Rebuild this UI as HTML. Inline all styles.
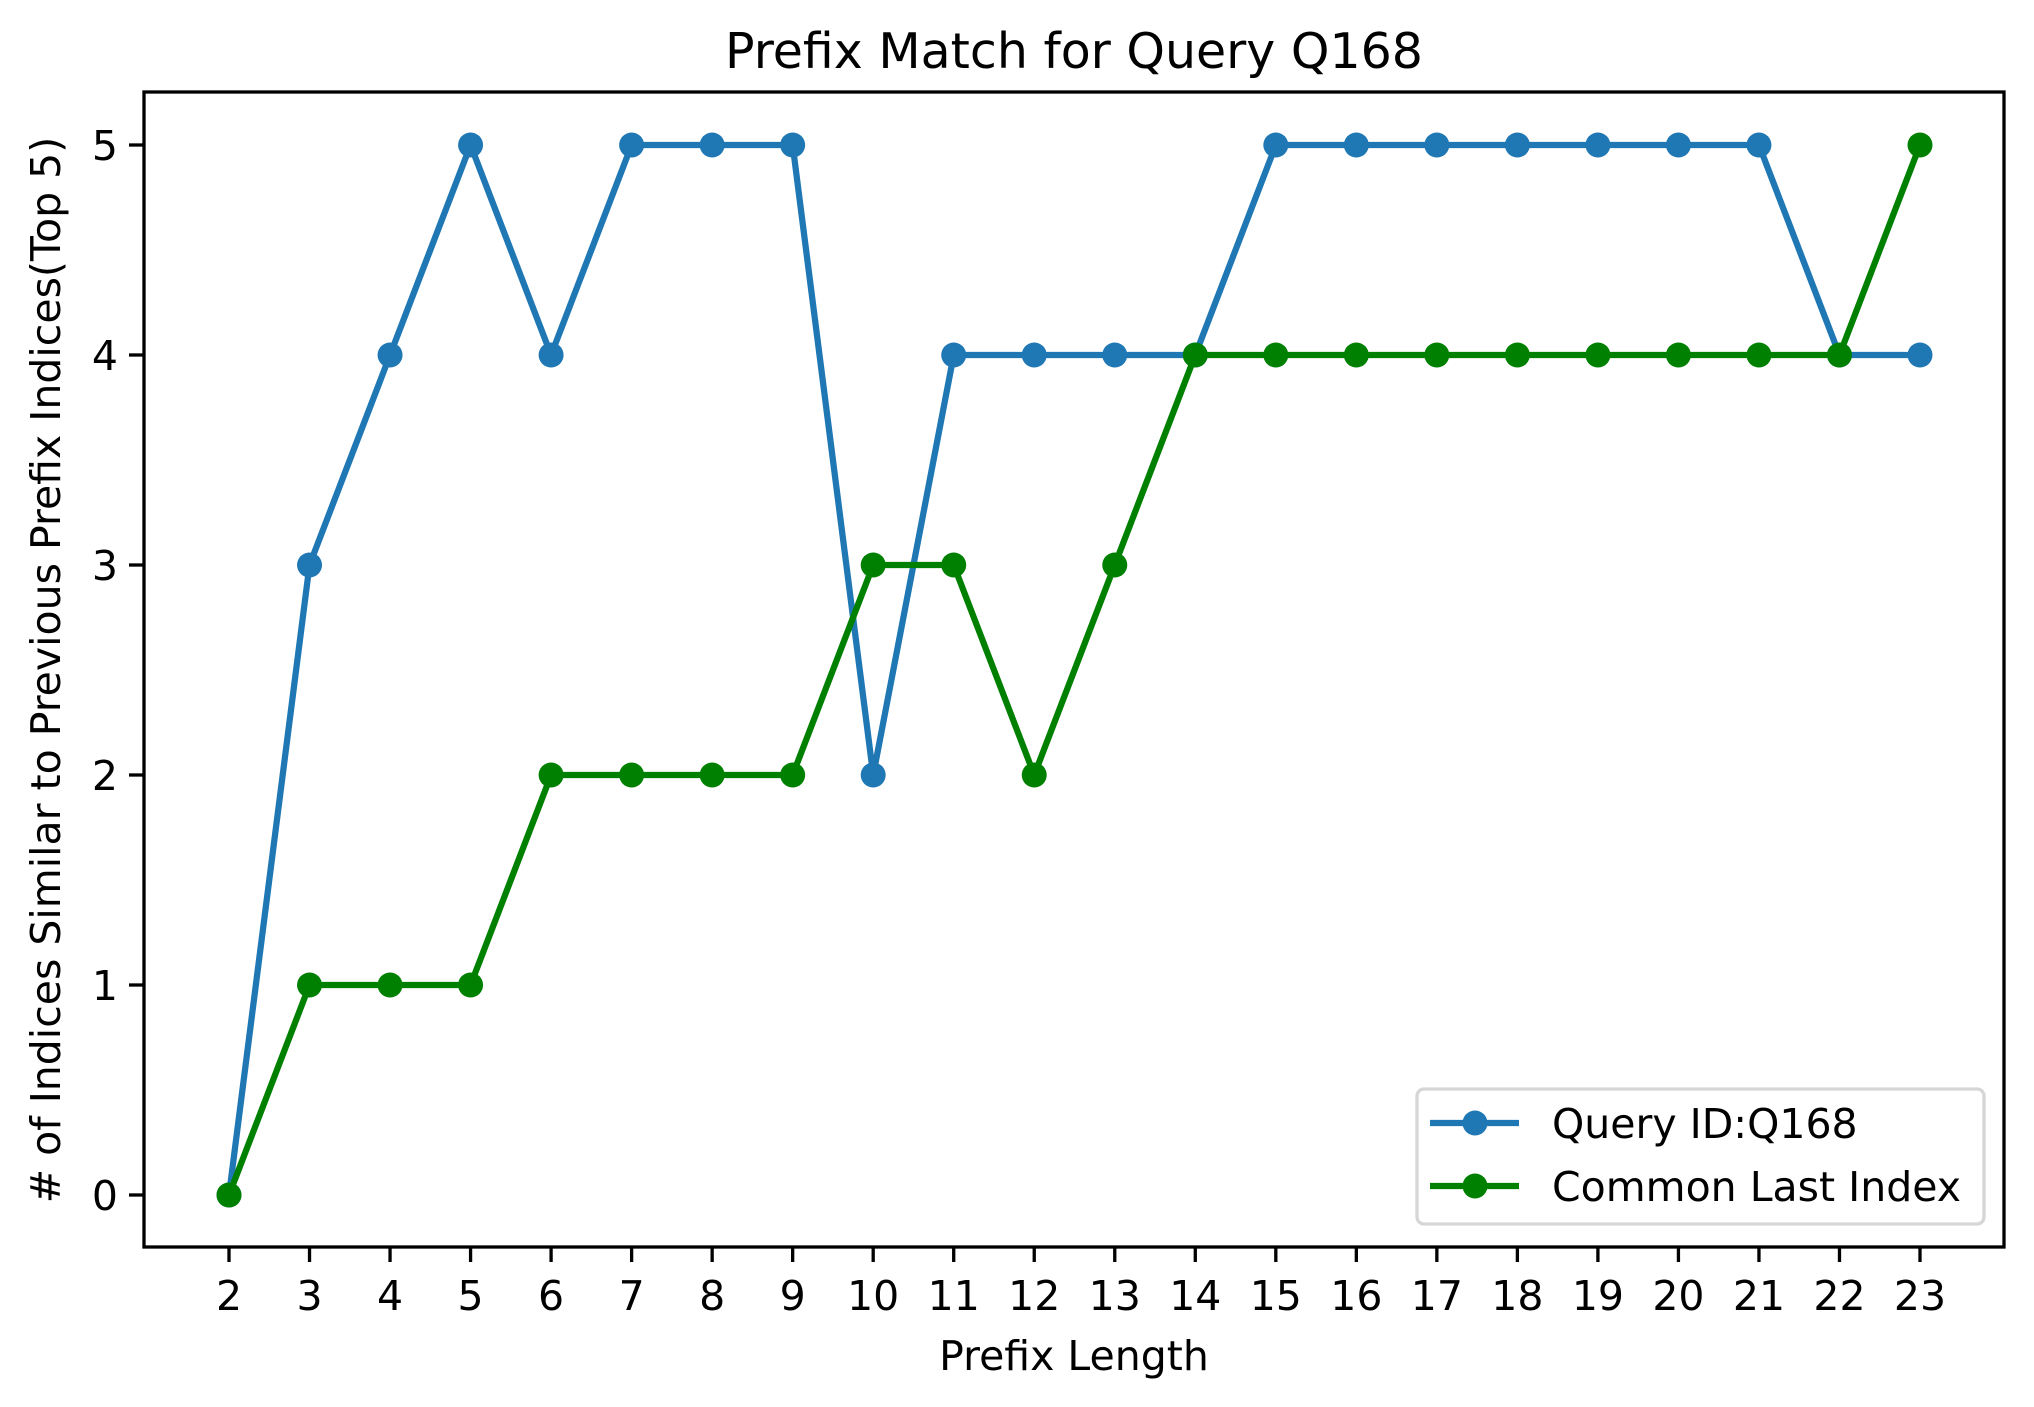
<!DOCTYPE html>
<html><head><meta charset="utf-8"><style>
html,body{margin:0;padding:0;background:#fff;}
svg{display:block;font-family:"DejaVu Sans","Liberation Sans",sans-serif;}
</style></head><body>
<svg id="chart" width="2034" height="1407" viewBox="0 0 2034 1407" xmlns="http://www.w3.org/2000/svg">
<rect width="2034" height="1407" fill="#fff"/>
<text x="1074" y="68" font-size="49" text-anchor="middle">Prefix Match for Query Q168</text>
<text x="1074" y="1370" font-size="41" text-anchor="middle">Prefix Length</text>
<text transform="translate(60,670) rotate(-90)" font-size="41" text-anchor="middle"># of Indices Similar to Previous Prefix Indices(Top 5)</text>
<g id="xticks"></g><g id="yticks"></g><g id="series"></g>
<rect x="144" y="92" width="1860" height="1155" fill="none" stroke="#000" stroke-width="3.3"/>
<g>
<rect x="1417" y="1089" width="567" height="135" rx="7" fill="#fff" fill-opacity="0.8" stroke="#d6d6d6" stroke-width="3.3"/>
<g>
<line x1="1430" y1="1123" x2="1519" y2="1123" stroke="#1f77b4" stroke-width="6.25"/>
<circle cx="1475" cy="1123" r="12.5" fill="#1f77b4"/>
<text x="1552" y="1138" font-size="41">Query ID:Q168</text></g>
<g>
<line x1="1430" y1="1186" x2="1519" y2="1186" stroke="#008000" stroke-width="6.25"/>
<circle cx="1475" cy="1186" r="12.5" fill="#008000"/>
<text x="1552" y="1201" font-size="41">Common Last Index</text></g>
</g>
</svg>
<script>
const prefixLengths = [2,3,4,5,6,7,8,9,10,11,12,13,14,15,16,17,18,19,20,21,22,23];
const queryValues = [0,3,4,5,4,5,5,5,2,4,4,4,4,5,5,5,5,5,5,5,4,4];
const commonValues = [0,1,1,1,2,2,2,2,3,3,2,3,4,4,4,4,4,4,4,4,4,5];
const yTicks = [0,1,2,3,4,5];

const NS = "http://www.w3.org/2000/svg";
const xScale = v => 229 + (v - 2) * (1920 - 229) / 21;
const yScale = v => 1195 - v * (1195 - 145) / 5;
function mk(tag, attrs, parent){const e=document.createElementNS(NS,tag);for(const k in attrs)e.setAttribute(k,attrs[k]);parent.appendChild(e);return e;}
const xg=document.getElementById('xticks'), yg=document.getElementById('yticks'), sg=document.getElementById('series');
prefixLengths.forEach(v=>{
  const x=xScale(v);
  const t=mk('line',{x1:x,y1:1247,x2:x,y2:1262,stroke:'#000','stroke-width':3.3},xg);
  
  
  const l=mk('text',{x:x,y:1310,'font-size':41,'text-anchor':'middle'},xg);
  l.textContent=v;
  
  
});
yTicks.forEach(v=>{
  const y=yScale(v);
  const t=mk('line',{x1:129,y1:y,x2:144,y2:y,stroke:'#000','stroke-width':3.3},yg);
  
  
  const l=mk('text',{x:118,y:y+15,'font-size':41,'text-anchor':'end'},yg);
  l.textContent=v;
  
  
});
function drawSeries(vals,color,name){
  const g=mk('g',{},sg);
  
  
  const pts=vals.map((v,i)=>xScale(prefixLengths[i])+','+yScale(v)).join(' ');
  const pl=mk('polyline',{points:pts,fill:'none',stroke:color,'stroke-width':6.25,'stroke-linejoin':'round'},g);
  
  
  vals.forEach((v,i)=>{
    const c=mk('circle',{cx:xScale(prefixLengths[i]),cy:yScale(v),r:12.5,fill:color},g);
    
    
  });
}
drawSeries(queryValues,'#1f77b4','query-series');
drawSeries(commonValues,'#008000','common-series');
</script>
</body></html>
